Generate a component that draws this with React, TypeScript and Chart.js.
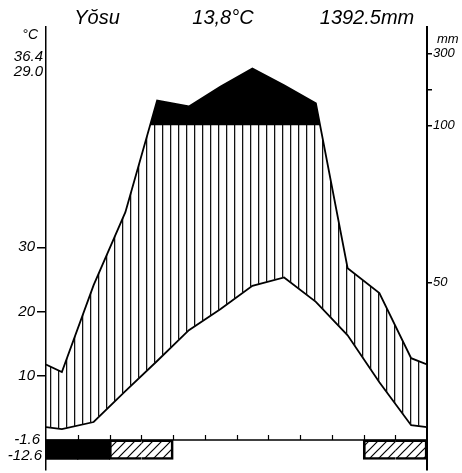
import React, { useEffect, useRef } from 'react';
import { Chart, registerables } from 'chart.js';

Chart.register(...registerables);

// ---- data ----
const months = ['Jan', 'Feb', 'Mar', 'Apr', 'May', 'Jun', 'Jul', 'Aug', 'Sep', 'Oct', 'Nov', 'Dec'];
const temperatureC = [1.7, 2.8, 7.6, 12.3, 17.1, 20.4, 24.0, 25.3, 21.5, 16.3, 9.0, 2.3];
const precipitationMm = [21.6, 49.2, 72.4, 169, 152.5, 208, 258, 211, 161, 54.6, 46.7, 26.0];
const temperatureEdgeC = 2.0;
const precipitationEdgeMm = 24.0;
// 2 = mean daily minimum below 0 (black), 1 = absolute minimum below 0 (hatched)
const frostClass = [2, 2, 1, 1, 0, 0, 0, 0, 0, 0, 1, 1];
const temperatureTicks = [10, 20, 30];
const precipitationTicks = [50, 100, 200, 300];
const precipitationTickLabels = ['50', '100', '', '300'];
const stationName = 'Yŏsu';
const meanTemperatureText = '13,8°C';
const annualPrecipitationText = '1392.5mm';
const upperTemperatureLabels = ['36.4', '29.0'];
const lowerTemperatureLabels = ['-1.6', '-12.6'];

// precipitation (mm) -> temperature-equivalent axis units
const toEq = (p: number) => (p <= 100 ? p * 0.49 : 49 + (p - 100) * 0.056);

const FONT = '"Liberation Sans", Arial, sans-serif';

function makeVerticalHatch(): CanvasPattern | string {
  const c = document.createElement('canvas');
  c.width = 8;
  c.height = 8;
  const g = c.getContext('2d');
  if (!g) return '#000';
  g.fillStyle = '#111';
  g.fillRect(2, 0, 1, 8);
  g.fillStyle = 'rgba(0,0,0,0.25)';
  g.fillRect(3, 0, 1, 8);
  return g.createPattern(c, 'repeat') || '#000';
}

function makeDiagonalHatch(): CanvasPattern | string {
  const c = document.createElement('canvas');
  const s = 9;
  c.width = s;
  c.height = s;
  const g = c.getContext('2d');
  if (!g) return '#000';
  g.strokeStyle = '#000';
  g.lineWidth = 1.2;
  g.beginPath();
  g.moveTo(0, s);
  g.lineTo(s, 0);
  g.moveTo(-1, 1);
  g.lineTo(1, -1);
  g.moveTo(s - 1, s + 1);
  g.lineTo(s + 1, s - 1);
  g.stroke();
  return g.createPattern(c, 'repeat') || '#000';
}

// part of a polyline lying above a level (points below are flattened onto the level,
// with the crossing points added so the filled area follows the curve exactly)
function above(points: { x: number; y: number }[], level: number) {
  const out: { x: number; y: number }[] = [];
  for (let i = 0; i < points.length; i++) {
    const p = points[i];
    if (i > 0) {
      const q = points[i - 1];
      if ((q.y - level) * (p.y - level) < 0) {
        const t = (level - q.y) / (p.y - q.y);
        out.push({ x: q.x + t * (p.x - q.x), y: level });
      }
    }
    out.push({ x: p.x, y: Math.max(p.y, level) });
  }
  return out;
}

const decorPlugin = {
  id: 'walterDecor',
  afterDatasetsDraw(chart: any) {
    const { ctx } = chart;
    const xs = chart.scales.x;
    const ys = chart.scales.y;
    const y0 = ys.getPixelForValue(0);
    ctx.save();
    ctx.strokeStyle = '#000';
    ctx.lineWidth = 1.5;
    ctx.beginPath();
    ctx.moveTo(xs.getPixelForValue(0), y0);
    ctx.lineTo(xs.getPixelForValue(months.length), y0);
    ctx.stroke();
    ctx.lineWidth = 1.2;
    for (let i = 1; i < months.length; i++) {
      const px = Math.round(xs.getPixelForValue(i)) + 0.5;
      ctx.beginPath();
      ctx.moveTo(px, y0);
      ctx.lineTo(px, y0 - 5);
      ctx.stroke();
    }
    ctx.restore();
  },
  afterDraw(chart: any) {
    const { ctx, chartArea } = chart;
    const ys = chart.scales.y;
    const y0 = ys.getPixelForValue(0);
    ctx.save();
    ctx.fillStyle = '#000';
    ctx.textBaseline = 'alphabetic';
    ctx.textAlign = 'center';
    ctx.font = `italic 20px ${FONT}`;
    ctx.fillText(stationName, chartArea.left + 51, 24);
    ctx.fillText(meanTemperatureText, chartArea.left + 177, 24);
    ctx.fillText(annualPrecipitationText, chartArea.left + 321, 24);

    ctx.textBaseline = 'middle';
    ctx.textAlign = 'right';
    ctx.font = `italic 14px ${FONT}`;
    ctx.fillText('°C', chartArea.left - 8, chartArea.top + 8);
    ctx.font = `italic 15px ${FONT}`;
    ctx.fillText(upperTemperatureLabels[0], chartArea.left - 3, chartArea.top + 30);
    ctx.fillText(upperTemperatureLabels[1], chartArea.left - 3, chartArea.top + 45);
    ctx.fillText(lowerTemperatureLabels[0], chartArea.left - 6, y0);
    ctx.fillText(lowerTemperatureLabels[1], chartArea.left - 4, y0 + 16);

    ctx.textAlign = 'left';
    ctx.font = `italic 13px ${FONT}`;
    ctx.fillText('mm', chartArea.right + 10, chartArea.top + 12);
    ctx.restore();
  },
};

export default function App() {
  const ref = useRef<HTMLCanvasElement | null>(null);

  useEffect(() => {
    if (!ref.current) return;
    const vHatch = makeVerticalHatch();
    const dHatch = makeDiagonalHatch();

    const xs = [0, ...months.map((_, i) => i + 0.5), months.length];
    const tempPoints = [temperatureEdgeC, ...temperatureC, temperatureEdgeC].map((y, i) => ({ x: xs[i], y }));
    const precPoints = [precipitationEdgeMm, ...precipitationMm, precipitationEdgeMm].map((p, i) => ({
      x: xs[i],
      y: toEq(p),
    }));
    const level100 = toEq(100);
    const humidTop = above(precPoints, level100);
    const frostBars = frostClass.map((c) => (c ? [-3.0, 0] : null));

    const edgeW = (i: number) => {
      const c = frostClass[i];
      if (c !== 1) return 0;
      return {
        top: 1.5,
        bottom: 1.5,
        left: frostClass[i - 1] !== c ? 1.5 : 0,
        right: frostClass[i + 1] !== c ? 1.5 : 0,
      };
    };

    const noPad = (s: any, w: number) => {
      s.width = w;
      s.paddingTop = 0;
      s.paddingBottom = 0;
    };

    const chart = new Chart(ref.current, {
      type: 'line',
      data: {
        labels: months,
        datasets: [
          {
            type: 'line',
            data: humidTop,
            xAxisID: 'x',
            yAxisID: 'y',
            borderColor: 'rgba(0,0,0,0)',
            borderWidth: 0,
            pointRadius: 0,
            tension: 0,
            backgroundColor: '#000',
            fill: { value: level100 },
          } as any,
          {
            type: 'line',
            data: precPoints,
            xAxisID: 'x',
            yAxisID: 'y',
            borderColor: '#000',
            borderWidth: 1.8,
            pointRadius: 0,
            tension: 0,
            backgroundColor: vHatch,
            fill: '+1',
          } as any,
          {
            type: 'line',
            data: tempPoints,
            xAxisID: 'x',
            yAxisID: 'y',
            borderColor: '#000',
            borderWidth: 1.8,
            pointRadius: 0,
            tension: 0,
            fill: false,
          } as any,
          {
            type: 'bar',
            data: frostBars,
            xAxisID: 'xc',
            yAxisID: 'y',
            backgroundColor: (c: any) => (frostClass[c.dataIndex ?? 0] === 2 ? '#000' : dHatch),
            borderColor: '#000',
            borderWidth: (c: any) => edgeW(c.dataIndex ?? 0),
            borderSkipped: false,
            inflateAmount: 0.6,
            barPercentage: 1,
            categoryPercentage: 1,
            grouped: false,
          } as any,
        ],
      },
      options: {
        animation: false,
        responsive: false,
        maintainAspectRatio: false,
        layout: { padding: { top: 27, bottom: 3, left: 0, right: 0 }, autoPadding: false },
        plugins: { legend: { display: false }, tooltip: { enabled: false } },
        scales: {
          x: { type: 'linear', min: 0, max: months.length, display: false },
          xc: { type: 'category', labels: months, offset: true, display: false },
          y: {
            type: 'linear',
            position: 'left',
            min: -4.67,
            max: 64.3,
            afterFit: (s: any) => noPad(s, 46),
            afterBuildTicks: (s: any) => {
              s.ticks = temperatureTicks.map((v) => ({ value: v }));
            },
            grid: { drawOnChartArea: false, drawTicks: true, tickLength: 9, color: '#000', lineWidth: 1.5 },
            border: { display: true, color: '#000', width: 1.5 },
            ticks: {
              color: '#000',
              padding: 2,
              font: { family: FONT, size: 15, style: 'italic' },
              callback: (v: any) => String(v),
            },
          },
          yR: {
            type: 'linear',
            position: 'right',
            min: -4.67,
            max: 64.3,
            afterFit: (s: any) => noPad(s, 35),
            afterBuildTicks: (s: any) => {
              s.ticks = precipitationTicks.map((p) => ({ value: toEq(p) }));
            },
            grid: { drawOnChartArea: false, drawTicks: true, tickLength: 5, color: '#000', lineWidth: 1.5 },
            border: { display: true, color: '#000', width: 2 },
            ticks: {
              color: '#000',
              padding: 1,
              font: { family: FONT, size: 13, style: 'italic' },
              callback: (_v: any, i: number) => precipitationTickLabels[i],
            },
          },
        },
      } as any,
      plugins: [decorPlugin],
    });
    return () => chart.destroy();
  }, []);

  return (
    <div style={{ position: 'absolute', left: 0, top: 0, width: 462, height: 473, background: '#fff' }}>
      <canvas ref={ref} width={462} height={473} style={{ display: 'block', width: 462, height: 473 }} />
    </div>
  );
}
